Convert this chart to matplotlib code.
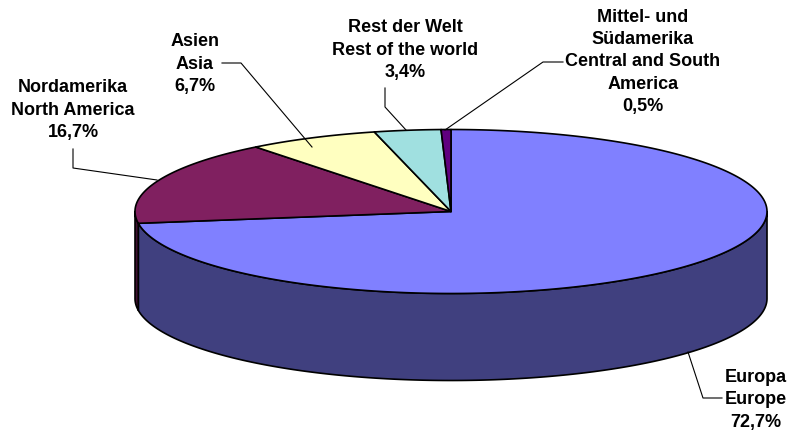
import numpy as np
import matplotlib
matplotlib.use("Agg")
import matplotlib.pyplot as plt
from matplotlib.patches import Polygon

# ---- data ----
labels_de = ["Europa", "Nordamerika", "Asien", "Rest der Welt", "Mittel- und\nSüdamerika"]
labels_en = ["Europe", "North America", "Asia", "Rest of the world", "Central and South\nAmerica"]
values = [72.7, 16.7, 6.7, 3.4, 0.5]

# ---- style ----
top_colors = ["#8080FF", "#802060", "#FFFFC0", "#A0E0E0", "#600080"]
side_colors = ["#40407F", "#401030", "#80805F", "#507070", "#300040"]

cx, cy, rx, ry, depth = 451, 211.5, 316, 82, 87

# label layout: (center x, first-line y), leader line points
label_pos = [(756, 377), (73, 88), (195, 42), (405, 28), (643, 17)]
leaders = [
    [(688, 352), (703, 398), (722, 398)],
    [(157, 180), (73, 168), (73, 149)],
    [(312, 147), (241, 63), (222, 63)],
    [(406, 130), (385, 107), (385, 88)],
    [(445, 130), (543, 62), (563, 62)],
]

fig = plt.figure(figsize=(7.94, 4.32), dpi=100)
ax = fig.add_axes([0, 0, 1, 1])
ax.set_xlim(0, 794)
ax.set_ylim(432, 0)
ax.axis("off")


def pt(t):
    t = np.radians(t)
    return cx + rx * np.cos(t), cy - ry * np.sin(t)


total = sum(values)
starts = []
ends = []
a = 90.0
for v in values:
    b = a - v / total * 360.0
    starts.append(a)
    ends.append(b)
    a = b

# side walls (front half only)
for i in range(len(values)):
    lo, hi = ends[i], starts[i]
    for k in (-1, 0, 1):
        wlo, whi = 180 + 360 * k, 360 + 360 * k
        s, e = max(lo, wlo), min(hi, whi)
        if e > s:
            ts = np.linspace(s, e, 200)
            xs, ys = pt(ts)
            poly = np.vstack([np.column_stack([xs, ys]),
                              np.column_stack([xs[::-1], ys[::-1] + depth])])
            ax.add_patch(Polygon(poly, closed=True, facecolor=side_colors[i],
                                 edgecolor="black", linewidth=1.2, zorder=1,
                                 joinstyle="round"))

# tops
for i in range(len(values)):
    ts = np.linspace(starts[i], ends[i], 300)
    xs, ys = pt(ts)
    poly = np.vstack([[cx, cy], np.column_stack([xs, ys])])
    ax.add_patch(Polygon(poly, closed=True, facecolor=top_colors[i],
                         edgecolor="black", linewidth=1.2, zorder=2,
                         joinstyle="round"))

# leader lines
for pts in leaders:
    p = np.array(pts)
    ax.plot(p[:, 0], p[:, 1], color="black", linewidth=0.8, zorder=3)

# labels
lh = 22.5
for i in range(len(values)):
    lines = labels_de[i].split("\n") + labels_en[i].split("\n") + \
        [("%.1f" % values[i]).replace(".", ",") + "%"]
    x0, y0 = label_pos[i]
    for j, ln in enumerate(lines):
        ax.text(x0, y0 + j * lh, ln, ha="center", va="center",
                fontfamily="Liberation Sans", fontweight="bold",
                fontsize=13, color="black", zorder=4)

fig.savefig("out.png", dpi=100)
